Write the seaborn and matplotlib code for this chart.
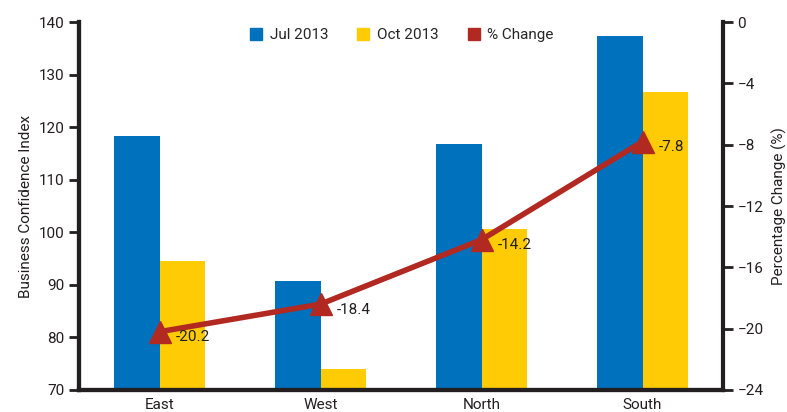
import matplotlib

matplotlib.use("Agg")

import matplotlib.pyplot as plt  # noqa: E402
import numpy as np  # noqa: E402
import pandas as pd  # noqa: E402
import seaborn as sns  # noqa: E402
from matplotlib.lines import Line2D  # noqa: E402

regions = ["East", "West", "North", "South"]
jul_2013 = [118.3, 90.7, 116.8, 137.3]
oct_2013 = [94.5, 74.0, 100.6, 126.7]
pct_change = [-20.2, -18.4, -14.2, -7.8]
series_names = ["Jul 2013", "Oct 2013"]

BLUE = "#0071BC"
YELLOW = "#FFCB05"
RED = "#B22922"
INK = "#231F20"

sns.set_theme(style="white")
plt.rcParams["font.family"] = ["Roboto", "DejaVu Sans"]

df = pd.DataFrame({
    "region": regions * 2,
    "period": [series_names[0]] * 4 + [series_names[1]] * 4,
    "index": jul_2013 + oct_2013,
})

fig = plt.figure(figsize=(7.87, 4.12), dpi=100)
ax = fig.add_axes([0.1004, 0.0534, 0.8183, 0.8932])
sns.barplot(data=df, x="region", y="index", hue="period",
            palette=[BLUE, YELLOW], width=0.57, saturation=1,
            linewidth=0, legend=False, ax=ax)
ax.set_ylim(70, 140)
ax.set_xlim(-0.5, 3.5)
ax.set_yticks(range(70, 141, 10))
ax.set_xlabel("")
ax.set_ylabel("Business Confidence Index", fontsize=11, color=INK)

ax2 = ax.twinx()
x_pos = np.arange(len(regions))
ax2.plot(x_pos, pct_change, color=RED, linewidth=4, marker="^",
         markersize=16, zorder=3)
for x, v in zip(x_pos, pct_change):
    ax2.annotate(f"{v}", (x, v), xytext=(12, -4), textcoords="offset points",
                 ha="left", va="center", fontsize=11, color=INK)
ax2.set_ylim(-24, 0)
ax2.set_yticks(range(-24, 1, 4))
ax2.set_ylabel("Percentage Change (%)", fontsize=11, color=INK, labelpad=6)

# category boundaries as minor ticks, labels centred without ticks
ax.set_xticks(x_pos)
ax.set_xticks(np.arange(-0.5, 4, 1), minor=True)
ax.tick_params(axis="x", which="major", length=0, pad=6, labelsize=11,
               labelcolor=INK)
ax.tick_params(axis="x", which="minor", length=7, width=2, color=INK,
               direction="out")
ax.tick_params(axis="y", length=7, width=2, color=INK, direction="out",
               labelsize=11, labelcolor=INK, left=True)
ax2.tick_params(axis="y", length=7, width=2, color=INK, direction="out",
                labelsize=11, labelcolor=INK, right=True)

for a in (ax, ax2):
    a.spines["top"].set_visible(False)
    for side in ("left", "right", "bottom"):
        a.spines[side].set_linewidth(3)
        a.spines[side].set_color(INK)
ax.spines["right"].set_visible(False)

handles = [
    Line2D([], [], marker="s", linestyle="", markersize=9, color=c)
    for c in (BLUE, YELLOW, RED)
]
ax2.legend(handles, series_names + ["% Change"], loc="upper center",
           bbox_to_anchor=(0.5, 1.02), ncol=3, frameon=False, fontsize=11,
           handletextpad=0.4, columnspacing=1.8, handlelength=1.0)

fig.savefig("out.png", dpi=100)
